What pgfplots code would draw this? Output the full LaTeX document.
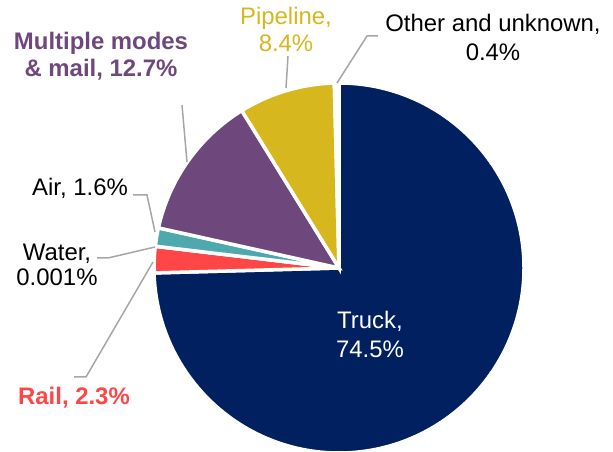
\documentclass[border=0pt]{standalone}
\usepackage{pgfplots}
\pgfplotsset{compat=1.18}
\usepackage{pgfplotstable}
\usepackage{fontspec}
\setmainfont{Liberation Sans}
\definecolor{pie0}{HTML}{002060}
\definecolor{pie1}{HTML}{FF4646}
\definecolor{pie2}{HTML}{A5A5A5}
\definecolor{pie3}{HTML}{4EA9AF}
\definecolor{pie4}{HTML}{6E487C}
\definecolor{pie5}{HTML}{D6B71E}
\definecolor{pie6}{HTML}{FFFFFF}
\definecolor{leader}{HTML}{A6A6A6}

\pgfplotstableread{
mode value
Truck 74.5
Rail 2.3
Water 0.001
Air 1.6
Multiple 12.7
Pipeline 8.4
Other 0.4
}\pietable

\def\total{0}
\pgfplotsforeachungrouped \i in {0,...,6}{%
  \pgfplotstablegetelem{\i}{value}\of\pietable
  \pgfmathsetmacro\total{\total+\pgfplotsretval}%
}
\def\cum{90}
\pgfplotsforeachungrouped \i in {0,...,6}{%
  \pgfplotstablegetelem{\i}{value}\of\pietable
  \expandafter\xdef\csname pieS\i\endcsname{\cum}%
  \pgfmathsetmacro\cum{\cum-(\pgfplotsretval/\total)*360}%
  \expandafter\xdef\csname pieE\i\endcsname{\cum}%
}

\begin{document}
\begin{tikzpicture}[font=\fontsize{24pt}{28pt}\selectfont]
\begin{axis}[x=1bp, y=1bp, xmin=0, xmax=613, ymin=0, ymax=452,
  hide axis, clip=false, scale only axis]
\pgfplotsinvokeforeach{0,...,6}{
  \filldraw[fill=pie#1, draw=white, line width=3.5bp, line join=miter]
    (axis cs:339,184) -- ++(\csname pieS#1\endcsname:185bp)
    arc[start angle=\csname pieS#1\endcsname, end angle=\csname pieE#1\endcsname, radius=185bp] -- cycle;
}
% leader lines
\draw[leader, line width=1.5bp] (axis cs:378,416) -- (axis cs:367,416) -- (axis cs:337,369);
\draw[leader, line width=1.5bp] (axis cs:288,396) -- (axis cs:286,364);
\draw[leader, line width=1.5bp] (axis cs:182,347) -- (axis cs:187,290);
\draw[leader, line width=1.5bp] (axis cs:133,257) -- (axis cs:147,257) -- (axis cs:155,220);
\draw[leader, line width=1.5bp] (axis cs:97,194) -- (axis cs:108,194) -- (axis cs:155,205);
\draw[leader, line width=1.5bp] (axis cs:74,75) -- (axis cs:86,75) -- (axis cs:153,190);
% labels
\node[anchor=base, text=pie5, inner sep=0pt] at (axis cs:286,427) {Pipeline,};
\node[anchor=base, text=pie5, inner sep=0pt] at (axis cs:286,400) {8.4\%};
\node[anchor=base, inner sep=0pt] at (axis cs:493,420) {Other and unknown,};
\node[anchor=base, inner sep=0pt] at (axis cs:493,391) {0.4\%};
\node[anchor=base, text=pie4, inner sep=0pt, font=\fontsize{24pt}{28pt}\selectfont\bfseries] at (axis cs:101,402) {Multiple modes};
\node[anchor=base, text=pie4, inner sep=0pt, font=\fontsize{24pt}{28pt}\selectfont\bfseries] at (axis cs:101,375) {\& mail, 12.7\%};
\node[anchor=base, inner sep=0pt] at (axis cs:80,256) {Air, 1.6\%};
\node[anchor=base, inner sep=0pt] at (axis cs:57,191) {Water,};
\node[anchor=base, inner sep=0pt] at (axis cs:57,166) {0.001\%};
\node[anchor=base, text=pie1, inner sep=0pt, font=\fontsize{24pt}{28pt}\selectfont\bfseries] at (axis cs:74,47) {Rail, 2.3\%};
\node[anchor=base, text=white, inner sep=0pt] at (axis cs:370,123) {Truck,};
\node[anchor=base, text=white, inner sep=0pt] at (axis cs:370,94) {74.5\%};
\coordinate (ll) at (axis cs:0,0);
\coordinate (ur) at (axis cs:613,452);
\end{axis}
\pgfresetboundingbox
\useasboundingbox (ll) rectangle (ur);
\end{tikzpicture}
\end{document}
